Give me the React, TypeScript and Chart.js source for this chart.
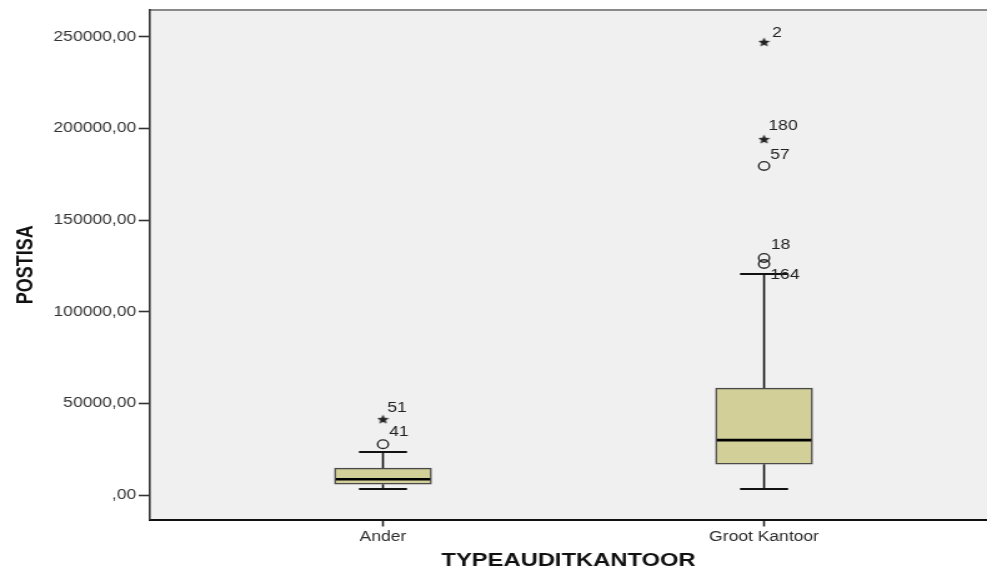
import React, { useEffect, useRef } from 'react';
import { Chart, registerables } from 'chart.js';

Chart.register(...registerables);

// ---- data ----
const CATEGORIES = ['Ander', 'Groot Kantoor'];
const WHISKER_LOW = [3300, 3300];
const Q1 = [6000, 16900];
const MEDIAN = [8700, 30000];
const Q3 = [14700, 58400];
const WHISKER_HIGH = [23500, 120600];

// mild outliers (circles)
const OUTLIER_CAT = [0, 1, 1, 1];
const OUTLIER_VAL = [27800, 179600, 129400, 126100];
const OUTLIER_ID = ['41', '57', '18', '164'];

// extreme values (stars)
const EXTREME_CAT = [0, 1, 1];
const EXTREME_VAL = [41500, 194300, 247300];
const EXTREME_ID = ['51', '180', '2'];

const Y_TICKS = [0, 50000, 100000, 150000, 200000, 250000];

// ---- styling (page is horizontally stretched like the original image) ----
const CANVAS_W = 790;
const CANVAS_H = 572;
const PAGE_W = 987;
const FONT = '"Liberation Sans", Arial, sans-serif';

// label offsets in canvas px [dx, dy]
const OUTLIER_LABEL_OFF: [number, number][] = [[5, -12], [5, -11], [5.5, -13], [5, 11]];
const EXTREME_LABEL_OFF: [number, number][] = [[3.5, -11], [3.5, -13], [6.5, -9]];

function makeStar(size: number): HTMLCanvasElement {
  const c = document.createElement('canvas');
  c.width = size;
  c.height = size;
  const g = c.getContext('2d')!;
  g.fillStyle = '#222';
  g.beginPath();
  for (let i = 0; i < 10; i++) {
    const r = i % 2 === 0 ? size / 2 : size / 4.4;
    const ang = -Math.PI / 2 + (i * Math.PI) / 5;
    g.lineTo(size / 2 + r * Math.cos(ang), size / 2 + 0.5 + r * Math.sin(ang));
  }
  g.closePath();
  g.fill();
  return c;
}

const boxExtras = {
  id: 'boxExtras',
  beforeDraw(chart: any) {
    const { ctx, chartArea: a } = chart;
    ctx.save();
    ctx.fillStyle = '#f0f0f0';
    ctx.fillRect(a.left, a.top, a.right - a.left, a.bottom - a.top);
    ctx.strokeStyle = '#8a8a8a';
    ctx.lineWidth = 2;
    ctx.beginPath();
    ctx.moveTo(a.left, a.top);
    ctx.lineTo(a.right, a.top);
    ctx.stroke();
    ctx.restore();
  },
  beforeDatasetsDraw(chart: any) {
    const { ctx, scales } = chart;
    const xs = scales.x;
    const ys = scales.y;
    const capHalf = 19.2;
    ctx.save();
    ctx.strokeStyle = '#111';
    CATEGORIES.forEach((_, i) => {
      const x = xs.getPixelForValue(i);
      ctx.lineWidth = 1.6;
      ctx.beginPath();
      ctx.moveTo(x, ys.getPixelForValue(WHISKER_LOW[i]));
      ctx.lineTo(x, ys.getPixelForValue(Q1[i]));
      ctx.moveTo(x, ys.getPixelForValue(Q3[i]));
      ctx.lineTo(x, ys.getPixelForValue(WHISKER_HIGH[i]));
      ctx.stroke();
      ctx.lineWidth = 2;
      ctx.beginPath();
      const yl = ys.getPixelForValue(WHISKER_LOW[i]);
      const yh = ys.getPixelForValue(WHISKER_HIGH[i]);
      ctx.moveTo(x - capHalf, yl);
      ctx.lineTo(x + capHalf, yl);
      ctx.moveTo(x - capHalf, yh);
      ctx.lineTo(x + capHalf, yh);
      ctx.stroke();
    });
    ctx.restore();
  },
  afterDatasetsDraw(chart: any) {
    const { ctx, scales } = chart;
    const xs = scales.x;
    const ys = scales.y;
    const half = 38.8;
    ctx.save();
    ctx.strokeStyle = '#000';
    ctx.lineWidth = 2.6;
    CATEGORIES.forEach((_, i) => {
      const x = xs.getPixelForValue(i);
      const y = ys.getPixelForValue(MEDIAN[i]);
      ctx.beginPath();
      ctx.moveTo(x - half + 1, y);
      ctx.lineTo(x + half - 1, y);
      ctx.stroke();
    });
    ctx.fillStyle = '#222';
    ctx.font = `14px ${FONT}`;
    ctx.textAlign = 'left';
    ctx.textBaseline = 'middle';
    OUTLIER_ID.forEach((id, i) => {
      const x = xs.getPixelForValue(OUTLIER_CAT[i]);
      const y = ys.getPixelForValue(OUTLIER_VAL[i]);
      ctx.fillText(id, x + OUTLIER_LABEL_OFF[i][0], y + OUTLIER_LABEL_OFF[i][1]);
    });
    EXTREME_ID.forEach((id, i) => {
      const x = xs.getPixelForValue(EXTREME_CAT[i]);
      const y = ys.getPixelForValue(EXTREME_VAL[i]);
      ctx.fillText(id, x + EXTREME_LABEL_OFF[i][0], y + EXTREME_LABEL_OFF[i][1]);
    });
    ctx.restore();
  },
};

export default function App() {
  const ref = useRef<HTMLCanvasElement>(null);

  useEffect(() => {
    document.body.style.margin = '0';
    const canvas = ref.current!;
    const star = makeStar(10);
    const chart = new Chart(canvas, {
      type: 'bar',
      data: {
        datasets: [
          {
            type: 'bar',
            data: CATEGORIES.map((_, i) => ({ x: i, y: [Q1[i], Q3[i]] })) as any,
            backgroundColor: '#d3cf98',
            borderColor: '#4a4a4a',
            borderWidth: 1.5,
            borderSkipped: false,
            barThickness: 77.6,
          } as any,
          {
            type: 'scatter',
            data: OUTLIER_CAT.map((c, i) => ({ x: c, y: OUTLIER_VAL[i] })),
            pointStyle: 'circle',
            radius: 4.3,
            borderColor: '#2a2a2a',
            backgroundColor: 'rgba(0,0,0,0)',
            borderWidth: 1.4,
          } as any,
          {
            type: 'scatter',
            data: EXTREME_CAT.map((c, i) => ({ x: c, y: EXTREME_VAL[i] })),
            pointStyle: star,
            radius: 5,
          } as any,
        ],
      },
      options: {
        animation: false,
        responsive: false,
        devicePixelRatio: 1,
        layout: { autoPadding: false, padding: { top: 10, left: 0, right: 0, bottom: 0 } },
        plugins: { legend: { display: false }, tooltip: { enabled: false } },
        scales: {
          x: {
            type: 'linear',
            min: -0.6115,
            max: 1.585,
            offset: false,
            afterBuildTicks: (s: any) => {
              s.ticks = CATEGORIES.map((_, i) => ({ value: i }));
            },
            afterFit: (s: any) => {
              s.height = 52.5;
              s.paddingLeft = 0;
              s.paddingRight = 0;
            },
            ticks: {
              callback: (v: any) => CATEGORIES[v] ?? '',
              font: { family: FONT, size: 14 },
              color: '#2a2a2a',
              padding: 2,
              maxRotation: 0,
              autoSkip: false,
            },
            grid: { offset: false, drawOnChartArea: false, tickLength: 7, tickColor: '#222', tickWidth: 1.6 },
            border: { color: '#111', width: 2 },
            title: {
              display: true,
              text: 'TYPEAUDITKANTOOR',
              font: { family: FONT, size: 19, weight: 'bold' },
              color: '#111',
              padding: 0,
            },
          } as any,
          y: {
            type: 'linear',
            min: -13300,
            max: 264700,
            afterBuildTicks: (s: any) => {
              s.ticks = Y_TICKS.map((v) => ({ value: v }));
            },
            afterFit: (s: any) => {
              s.width = 120;
              s.paddingTop = 0;
              s.paddingBottom = 0;
            },
            ticks: {
              callback: (v: any) => (v === 0 ? ',00' : `${v},00`),
              font: { family: FONT, size: 14 },
              color: '#333',
              padding: 2,
            },
            grid: { drawOnChartArea: false, tickLength: 9, tickColor: '#333', tickWidth: 1.6 },
            border: { color: '#333', width: 1.6 },
            title: {
              display: true,
              text: 'POSTISA',
              font: { family: FONT, size: 18, weight: 'bold' },
              color: '#111',
              padding: { top: 10, bottom: 0 },
            },
          } as any,
        },
      },
      plugins: [boxExtras],
    });
    return () => chart.destroy();
  }, []);

  return (
    <canvas
      ref={ref}
      width={CANVAS_W}
      height={CANVAS_H}
      style={{ width: `${PAGE_W}px`, height: `${CANVAS_H}px`, display: 'block' }}
    />
  );
}
